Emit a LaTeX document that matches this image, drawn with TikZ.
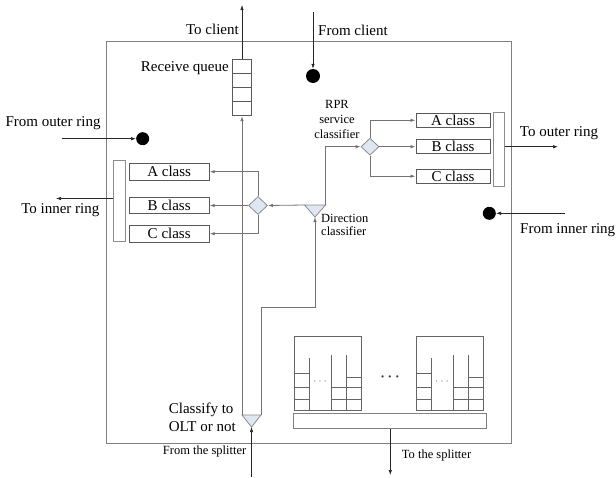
\documentclass[tikz,border=0pt]{standalone}
\usepackage{fontspec}
\setmainfont{Liberation Serif}
\usetikzlibrary{calc,shapes.geometric,arrows.meta}
\tikzset{>={Latex[length=5pt,width=3.5pt]}}
\definecolor{shapefill}{RGB}{222,231,242}
\colorlet{wire}{black!55}
\newcommand{\lblfont}{\fontsize{15}{17.7}\selectfont}
\newcommand{\smlfont}{\fontsize{12.5}{12.7}\selectfont}

\begin{document}
\begin{tikzpicture}[x=1pt,y=-1pt,
  wire/.style={draw=wire,line width=0.8pt},
  ext/.style={draw=black!85,line width=0.7pt},
  box/.style={draw=black!65,line width=1pt,inner sep=0pt,font=\lblfont},
  sel/.style={diamond,draw=black!45,fill=shapefill,line width=0.8pt,inner sep=0pt},
  tri/.style={draw=black!45,fill=shapefill,line width=0.8pt},
  dot/.style={circle,fill=black,inner sep=0pt,minimum size=13pt},
  txt/.style={inner sep=0pt,font=\lblfont},
  stxt/.style={inner sep=0pt,font=\smlfont}]
  \useasboundingbox (0,0) rectangle (616,477);
  \draw[draw=black!50,line width=0.8pt] (106,41) rectangle (511,443);
  % receive queue
  \node[box,minimum width=18.7pt,minimum height=56.4pt] (rq) at (242,87.5) {};
  \foreach \f in {0.25,0.5,0.75}
    \draw[draw=black!65,line width=1pt] ($(rq.north west)!\f!(rq.south west)$) -- ($(rq.north east)!\f!(rq.south east)$);
  \node[txt,anchor=east] (rq-lbl) at (229,68) {Receive queue};
  \coordinate (to-client) at (242,5);
  \draw[ext,->] (rq.north) -- (to-client);
  \node[txt,anchor=east] (to-client-lbl) at (239,29) {To client};
  \node[dot,minimum size=14pt] (cd) at (313,76) {};
  \coordinate (from-client) at (313,12);
  \draw[ext,->] (from-client) -- (cd);
  \node[txt,anchor=west] (from-client-lbl) at (318,30) {From client};
  % classify to OLT or not
  \coordinate (olt-l) at (242,415);
  \coordinate (olt-r) at (261,415);
  \coordinate (olt) at (251.5,427);
  \filldraw[tri] (olt-l) -- (olt-r) -- (olt) -- cycle;
  \node[txt,anchor=east,align=left] (olt-lbl) at (236,417) {Classify to\\OLT or not};
  \coordinate (from-split) at (251.5,477);
  \draw[ext,->] (from-split) -- (olt);
  \node[stxt,anchor=east] (from-split-lbl) at (246.5,451) {From the splitter};
  \draw[wire,->] (olt-l) -- (rq.south);
  % direction classifier
  \coordinate (dir-l) at (304.5,205);
  \coordinate (dir-r) at (325.5,205);
  \coordinate (dir) at (315,217);
  \filldraw[tri] (dir-l) -- (dir-r) -- (dir) -- cycle;
  \node[stxt,anchor=west,align=left] (dir-lbl) at (321,225) {Direction\\classifier};
  \draw[wire,->] (olt-r) |- ($(dir)+(0,90)$) -- (dir);
  % towards the inner ring
  \node[sel,minimum width=19pt,minimum height=18pt] (ldm) at (258,205.5) {};
  \draw[wire,->] (dir-l) -- (ldm.east);
  \node[box,minimum width=80pt,minimum height=16.7pt] (la) at (169.2,171.7) {A class};
  \node[box,minimum width=80pt,minimum height=16.7pt] (lb) at (169.2,205.5) {B class};
  \node[box,minimum width=80pt,minimum height=16.7pt] (lc) at (169.2,233.7) {C class};
  \draw[wire,->] (ldm.north) |- (la.east);
  \draw[wire,->] (ldm.west) -- (lb.east);
  \draw[wire,->] (ldm.south) |- (lc.east);
  \node[box,draw=black!45,minimum width=12.4pt,minimum height=80.7pt] (lbar) at (119.5,201.3) {};
  \coordinate (to-inner) at (56,198.5);
  \draw[ext,->] (lbar.west |- to-inner) -- (to-inner);
  \node[txt] (to-inner-lbl) at (60.3,210) {To inner ring};
  \node[dot] (od) at (142.7,138.7) {};
  \coordinate (from-outer) at (61.5,138.7);
  \draw[ext,->] (from-outer) -- (od);
  \node[txt] (from-outer-lbl) at (53,122.7) {From outer ring};
  % towards the outer ring
  \node[sel,minimum width=18pt,minimum height=17pt] (rdm) at (370,146.7) {};
  \draw[wire,->] (dir-r) |- (rdm.west);
  \node[stxt,align=center,font=\fontsize{12.5}{14.7}\selectfont] (rpr-lbl) at (337,119.5) {RPR\\service\\classifier};
  \node[box,minimum width=74pt,minimum height=14pt] (ra) at (453,120.3) {A class};
  \node[box,minimum width=74pt,minimum height=14pt] (rb) at (453,146.7) {B class};
  \node[box,minimum width=74pt,minimum height=14pt] (rc) at (453,176.2) {C class};
  \draw[wire,->] (rdm.north) |- (ra.west);
  \draw[wire,->] (rdm.east) -- (rb.west);
  \draw[wire,->] (rdm.south) |- (rc.west);
  \node[box,draw=black!45,minimum width=11pt,minimum height=74.4pt] (rbar) at (498.8,149.5) {};
  \coordinate (to-outer) at (558,146.7);
  \draw[ext,->] (rbar.east |- to-outer) -- (to-outer);
  \node[txt] (to-outer-lbl) at (559,132.7) {To outer ring};
  \node[dot] (idt) at (489.3,213.3) {};
  \coordinate (from-inner) at (565,213.3);
  \draw[ext,->] (from-inner) -- (idt);
  \node[txt,anchor=west] (from-inner-lbl) at (520,230) {From inner ring};
  % queues towards the splitter
  \foreach \dx in {0,122}{
    \begin{scope}[shift={(\dx,0)},draw=black!60,line width=0.9pt]
      \draw (294,336.7) rectangle (361,410);
      \draw (309,358.3) -- (309,410) (331,355) -- (331,410) (346,355) -- (346,410);
      \draw (294,373.5) -- (309,373.5) (294,387.7) -- (309,387.7) (294,399) -- (309,399);
      \draw (331,387.7) -- (361,387.7) (331,399) -- (361,399) (346,377.3) -- (361,377.3);
      \node[stxt,text=black!50] (inner-dots) at (320,382) {$\cdots$};
    \end{scope}
  }
  \node[txt,font=\lblfont\boldmath,text=black!80] (mid-dots) at (390,377) {$\cdots$};
  \node[box,draw=black!50,minimum width=192.7pt,minimum height=14.7pt] (sbar) at (390.3,421.3) {};
  \coordinate (to-split) at (390.3,475);
  \draw[ext,->] (sbar.south) -- (to-split);
  \node[stxt,anchor=west] (to-split-lbl) at (401.7,455) {To the splitter};
\end{tikzpicture}
\end{document}
